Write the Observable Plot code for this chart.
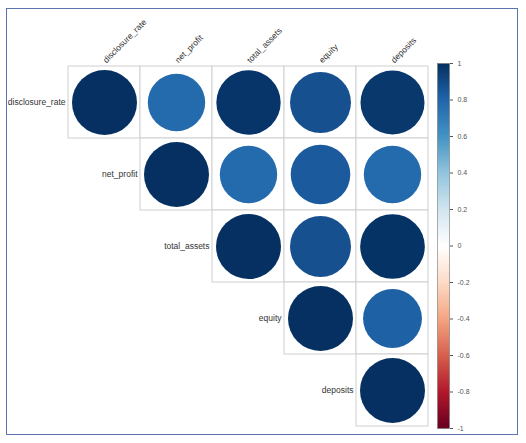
<!DOCTYPE html>
<html>
<head>
<meta charset="utf-8">
<script src="https://cdn.jsdelivr.net/npm/d3@7"></script>
<script src="https://cdn.jsdelivr.net/npm/@observablehq/plot@0.6"></script>
<style>
  body { margin: 0; background: #fff; }
  #wrap { position: relative; width: 526px; height: 443px; overflow: hidden; }
  #frame { position: absolute; left: 6px; top: 8px; width: 510px; height: 425px; border: 1px solid #5b74b0; }
  #main, #bar { position: absolute; top: 0; }
  #main { left: 0; }
  #bar { left: 437px; }
</style>
</head>
<body>
<div id="wrap">
  <div id="frame"></div>
  <div id="main"></div>
  <div id="bar"></div>
</div>
<script>
// variables (rows and columns of the matrix)
const vars = ["disclosure_rate", "net_profit", "total_assets", "equity", "deposits"];

// upper triangle of the correlation matrix, row by row (diagonal first)
const rowDisclosure = [1, 0.78, 0.98, 0.88, 0.97];
const rowNetProfit = [1, 0.78, 0.84, 0.78];
const rowTotalAssets = [1, 0.88, 0.99];
const rowEquity = [1, 0.82];
const rowDeposits = [1];

// colour bar ticks
const barTicks = [1, 0.8, 0.6, 0.4, 0.2, 0, -0.2, -0.4, -0.6, -0.8, -1];

// corrplot RdBu palette
const colDomain = [-1, -0.8, -0.6, -0.4, -0.2, 0, 0.2, 0.4, 0.6, 0.8, 1];
const colRange = ["#67001F", "#B2182B", "#D6604D", "#F4A582", "#FDDBC7", "#FFFFFF", "#D1E5F0", "#92C5DE", "#4393C3", "#2166AC", "#053061"];

const rows = [rowDisclosure, rowNetProfit, rowTotalAssets, rowEquity, rowDeposits];
let pares = [];
rows.forEach((r, i) => {
  r.forEach((v, k) => {
    pares.push({fila: vars[i], col: vars[i + k], valor: v});
  });
});

const colorOpts = {type: "linear", domain: colDomain, range: colRange, interpolate: "rgb"};
const fuente = "Liberation Sans, Arial, sans-serif";

let chart = Plot.plot({
  width: 526,
  height: 443,
  marginLeft: 68,
  marginRight: 98,
  marginTop: 64,
  marginBottom: 16,
  style: {fontFamily: fuente, overflow: "visible", background: "transparent"},
  x: {domain: vars, padding: 0, axis: null, label: null},
  y: {domain: vars, padding: 0, axis: null, label: null},
  color: colorOpts,
  r: {type: "sqrt", domain: [0, 1], range: [0, 32.5]},
  marks: [
    Plot.cell(pares, {x: "col", y: "fila", fill: "white", stroke: "#cfcfcf", strokeWidth: 1, inset: 0}),
    Plot.dot(pares, {x: "col", y: "fila", r: d => Math.abs(d.valor), fill: "valor", stroke: "none"}),
    Plot.axisX({anchor: "top", label: null, tickSize: 0, tickPadding: 3, tickRotate: -45, fontSize: 8.5, color: "#333"}),
    Plot.text(vars, {x: d => d, y: d => d, text: d => d, textAnchor: "end", dx: -39, fontSize: 8.5, fill: "#333"})
  ]
});
d3.select("#main").append(() => chart);

// barra de colores
let barra = Plot.plot({
  width: 60,
  height: 443,
  marginLeft: 0,
  marginRight: 48,
  marginTop: 63,
  marginBottom: 15,
  style: {fontFamily: fuente, background: "transparent"},
  x: {domain: [0, 1], axis: null},
  y: {domain: [-1, 1]},
  color: colorOpts,
  marks: [
    Plot.raster({x1: 0, x2: 1, y1: -1, y2: 1, width: 1, height: 200, fill: (x, y) => y, imageRendering: "auto"}),
    Plot.frame({stroke: "#777", strokeWidth: 0.6}),
    Plot.axisY({anchor: "right", label: null, ticks: barTicks, tickSize: 3, tickPadding: 5, tickFormat: d => String(d), fontSize: 7, color: "#555", stroke: "#555"})
  ]
});
d3.select("#bar").append(() => barra);
</script>
</body>
</html>
